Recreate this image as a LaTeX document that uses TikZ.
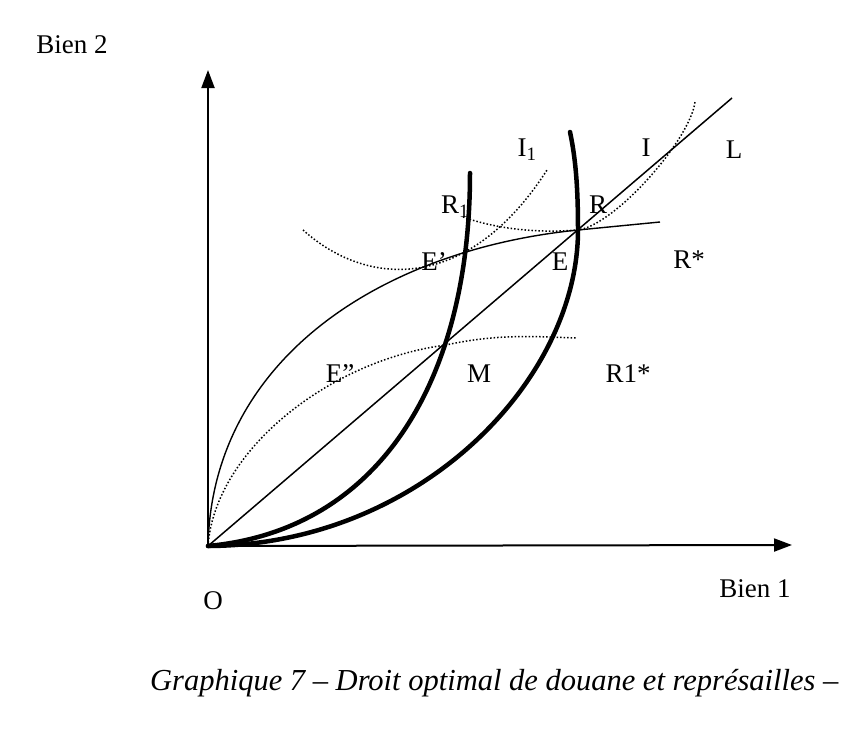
\documentclass[tikz,border=0pt]{standalone}
\usepackage{fontspec}
\setmainfont{Liberation Serif}
\usetikzlibrary{arrows.meta}
\begin{document}
\begin{tikzpicture}[x=1pt,y=-1pt,
  lbl/.style={inner sep=0pt, font=\fontsize{27}{29}\selectfont},
  axis/.style={line width=2pt, -{Triangle[length=18pt,width=13pt]}},
  thick curve/.style={line width=4.5pt, line cap=round},
  thin curve/.style={line width=1.4pt},
  dot curve/.style={line width=1.5pt, dotted}]
\useasboundingbox (0,0) rectangle (862,736);
\coordinate (O) at (208,546);
\coordinate (ytip) at (208,70);
\coordinate (xtip) at (792,545);
\coordinate (Lend) at (732,98);
\coordinate (Rpt) at (578,230);
\coordinate (Mpt) at (446,345);
% axes
\draw[axis] (208,548) -- (ytip);
\draw[axis] (206,546) -- (xtip);
% line L
\draw[line width=1.5pt] (O) -- (Lend);
% thin offer curve R*
\draw[thin curve] (O) .. controls (212,360) and (380,250) .. (Rpt) -- (660,222);
% dotted R1*
\draw[dot curve] (O) .. controls (215,450) and (330,360) .. (Mpt) .. controls (500,333) and (540,337) .. (577,338);
% dotted I1
\draw[dot curve] (303,230) .. controls (370,290) and (470,290) .. (547,170);
% dotted I
\draw[dot curve] (463,217) .. controls (500,230) and (540,233) .. (Rpt) .. controls (615,225) and (690,140) .. (695,102);
% thick curves
\draw[thick curve] (O) .. controls (380,530) and (470,380) .. (470,173);
\draw[thick curve] (O) .. controls (420,545) and (578,380) .. (Rpt) .. controls (578,190) and (576,160) .. (570,132);
% labels
\node[lbl] (bien2) at (72,45) {Bien 2};
\node[lbl] (bien1) at (755,589) {Bien 1};
\node[lbl] (o) at (213,601) {O};
\node[lbl] (I1) at (527,150) {I\textsubscript{1}};
\node[lbl] (I) at (646,148) {I};
\node[lbl] (L) at (734,150) {L};
\node[lbl] (R1) at (455,207) {R\textsubscript{1}};
\node[lbl] (R) at (598,205) {R};
\node[lbl] (Rs) at (689,260) {R*};
\node[lbl] (Ep) at (434,262) {E'};
\node[lbl] (E) at (560,262) {E};
\node[lbl] (Epp) at (340,374) {E''};
\node[lbl] (M) at (479,374) {M};
\node[lbl] (R1s) at (628,374) {R1*};
\node[anchor=west, inner sep=0pt, font=\fontsize{30.5}{33}\selectfont\itshape] (cap) at (150,683) {Graphique 7 -- Droit optimal de douane et représailles --};
\end{tikzpicture}
\end{document}
